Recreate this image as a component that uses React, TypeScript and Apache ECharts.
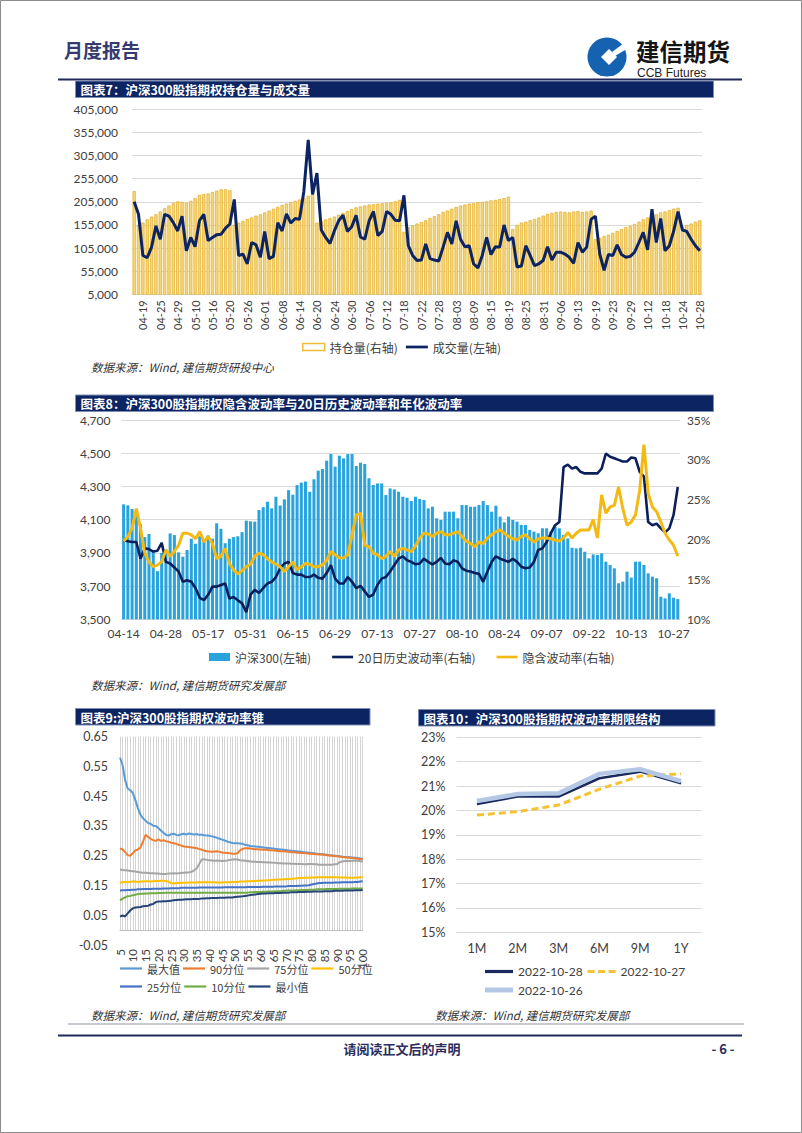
import React, { useEffect, useRef } from "react";
import * as echarts from "echarts";

// ---------------- DATA ----------------
const tradeDays = [
  "04-14","04-15","04-18","04-19","04-20","04-21","04-22","04-25","04-26","04-27","04-28","04-29",
  "05-05","05-06","05-09","05-10","05-11","05-12","05-13","05-16","05-17","05-18","05-19","05-20","05-23","05-24","05-25","05-26","05-27","05-30","05-31",
  "06-01","06-02","06-06","06-07","06-08","06-09","06-10","06-13","06-14","06-15","06-16","06-17","06-20","06-21","06-22","06-23","06-24","06-27","06-28","06-29","06-30",
  "07-01","07-04","07-05","07-06","07-07","07-08","07-11","07-12","07-13","07-14","07-15","07-18","07-19","07-20","07-21","07-22","07-25","07-26","07-27","07-28","07-29",
  "08-01","08-02","08-03","08-04","08-05","08-08","08-09","08-10","08-11","08-12","08-15","08-16","08-17","08-18","08-19","08-22","08-23","08-24","08-25","08-26","08-29","08-30","08-31",
  "09-01","09-02","09-05","09-06","09-07","09-08","09-09","09-13","09-14","09-15","09-16","09-19","09-20","09-21","09-22","09-23","09-26","09-27","09-28","09-29","09-30",
  "10-10","10-11","10-12","10-13","10-14","10-17","10-18","10-19","10-20","10-21","10-24","10-25","10-26","10-27","10-28"
];
const oiDays = tradeDays.slice(1);

// Chart 7: open interest (right axis) and volume (left axis)
const openInterest = [
  228000,155000,160000,167000,173000,178000,184000,191000,197000,202000,
  206000,205000,203000,207000,213000,220000,222000,223000,226000,229000,
  232000,232000,230000,155000,160000,164000,168000,171000,175000,178000,
  182000,186000,190000,194000,198000,201000,204000,207000,210000,213000,
  218000,221000,160000,164000,167000,170000,173000,177000,181000,185000,
  189000,193000,195000,197000,199000,200000,201000,202000,203000,204000,
  206000,209000,140000,150000,154000,158000,161000,165000,170000,174000,
  178000,183000,186000,190000,194000,197000,199000,201000,202000,204000,
  205000,206000,208000,209000,211000,213000,216000,146000,155000,160000,
  162000,165000,168000,171000,175000,179000,181000,183000,184000,183000,
  182000,184000,185000,183000,184000,186000,124000,127000,131000,134000,
  138000,142000,146000,150000,153000,157000,162000,167000,171000,175000,
  178000,182000,184000,187000,190000,192000,152000,155000,158000,162000,
  165000
];
const volume = [
  205000,178000,89000,84000,107000,153000,124000,178000,174000,160000,
  142000,174000,99000,128000,108000,164000,178000,121000,128000,134000,
  135000,148000,157000,210000,89000,92000,71000,117000,112000,85000,
  141000,82000,87000,160000,142000,179000,159000,169000,167000,228000,
  339000,221000,267000,144000,128000,115000,142000,164000,176000,141000,
  151000,176000,129000,124000,164000,184000,132000,141000,184000,178000,
  165000,164000,219000,110000,89000,78000,79000,114000,82000,79000,
  77000,107000,139000,114000,164000,124000,108000,110000,71000,62000,
  89000,128000,91000,108000,107000,155000,121000,128000,64000,66000,
  110000,89000,67000,71000,78000,108000,79000,96000,96000,92000,
  85000,72000,117000,96000,107000,167000,174000,92000,57000,91000,
  89000,112000,91000,85000,87000,96000,117000,139000,101000,189000,
  117000,169000,99000,110000,142000,184000,144000,141000,124000,110000,
  99000
];

// Chart 8: CSI 300 index (left), 20d HV and IV (right, %)
const csi300 = [
  4192,4186,4164,4140,4072,3995,4014,3915,3790,3900,
  3920,4017,4007,3903,3877,3917,3985,3955,4000,3970,
  4005,3985,4078,4045,3958,3985,3995,4000,4025,4094,
  4090,4088,4158,4175,4208,4168,4238,4185,4222,4278,
  4250,4308,4323,4329,4268,4343,4395,4405,4455,4495,
  4419,4485,4469,4495,4495,4423,4443,4435,4349,4309,
  4318,4318,4248,4288,4282,4268,4238,4232,4212,4238,
  4224,4218,4168,4178,4108,4098,4148,4148,4148,4108,
  4188,4188,4178,4178,4188,4212,4188,4148,4184,4118,
  4084,4118,4098,4088,4068,4068,4038,4028,4018,4048,
  4048,4028,4058,4048,4008,3987,3931,3927,3931,3907,
  3867,3891,3887,3897,3847,3827,3807,3717,3727,3787,
  3751,3847,3847,3827,3777,3757,3747,3636,3626,3656,
  3630,3622
];
const hv20 = [
  19.95,19.8,19.7,19.7,17.6,18.9,18.8,18.5,18.6,19.6,
  17.2,17.0,16.5,16.0,14.7,14.9,14.7,13.9,12.7,12.4,
  13.1,14.1,14.1,14.3,14.5,12.6,12.8,12.4,12.0,10.9,
  13.1,13.7,13.3,13.9,14.5,14.7,15.3,16.4,17.0,17.2,
  15.8,15.6,15.6,15.3,15.3,15.6,15.2,15.1,15.8,16.8,
  15.1,14.5,14.5,15.3,14.7,13.9,14.2,13.5,12.8,13.1,
  14.3,15.1,15.3,16.0,16.8,17.6,17.9,17.4,17.2,16.9,
  17.0,17.6,17.2,16.9,17.2,17.7,17.0,16.9,17.4,17.2,
  16.4,16.1,16.0,15.8,15.7,14.7,16.0,17.2,17.9,17.6,
  17.4,17.2,17.6,17.2,16.6,16.4,16.5,17.2,18.7,18.9,
  19.7,20.8,21.8,22.2,29.1,29.4,28.9,29.1,28.5,28.3,
  28.3,28.3,28.3,28.9,30.8,30.4,30.2,30.0,29.8,29.8,
  30.3,30.2,28.5,27.9,22.2,21.8,22.0,21.4,20.9,21.4,
  23.1,26.6
];
const impliedVol = [
  19.8,20.4,21.4,23.9,21.4,18.3,17.2,16.6,16.8,17.2,
  18.7,17.9,18.5,19.3,20.8,20.8,20.6,20.1,21.0,19.7,
  20.4,19.5,17.6,17.9,18.9,17.0,16.2,15.7,16.1,16.6,
  16.9,17.9,18.3,18.1,17.6,17.2,16.9,16.6,16.0,16.6,
  17.2,16.2,16.6,17.0,16.9,16.6,16.6,16.8,17.4,18.5,
  18.1,17.7,17.7,18.1,20.6,23.1,23.3,19.3,19.1,18.3,
  18.1,17.6,17.9,18.5,17.9,18.7,18.9,18.7,18.5,19.2,
  20.2,20.8,20.7,20.4,20.8,21.0,20.6,20.6,20.8,21.0,
  20.4,19.8,19.5,19.1,19.7,19.5,20.2,20.6,21.0,21.2,
  20.8,20.4,20.1,19.95,20.4,20.6,20.1,19.7,20.1,20.2,
  20.2,20.1,19.95,19.8,20.2,20.9,20.2,20.8,21.2,21.2,
  21.2,22.5,20.2,25.6,23.3,24.1,24.3,26.6,23.9,21.8,
  22.2,23.1,26.2,31.9,25.8,24.1,23.5,22.2,20.8,19.95,
  19.3,17.9
];

// Chart 9: volatility cone, windows 5..100
const conePeriods = [
  5,6,7,8,9,10,11,12,13,14,15,16,17,18,19,20,21,22,23,24,25,26,27,28,29,30,31,32,33,34,
  35,36,37,38,39,40,41,42,43,44,45,46,47,48,49,50,51,52,53,54,55,56,57,58,59,60,61,62,63,64,
  65,66,67,68,69,70,71,72,73,74,75,76,77,78,79,80,81,82,83,84,85,86,87,88,89,90,91,92,93,94,
  95,96,97,98,99,100
];
const coneMax = [
  0.580,0.555,0.505,0.476,0.470,0.462,0.437,0.410,0.388,0.376,
  0.368,0.360,0.357,0.351,0.350,0.343,0.335,0.327,0.320,0.318,
  0.322,0.324,0.320,0.319,0.322,0.324,0.321,0.325,0.323,0.321,
  0.323,0.320,0.321,0.319,0.318,0.317,0.315,0.313,0.310,0.307,
  0.304,0.301,0.298,0.295,0.293,0.292,0.292,0.291,0.290,0.287,
  0.285,0.283,0.282,0.281,0.280,0.279,0.278,0.277,0.276,0.275,
  0.274,0.273,0.272,0.271,0.270,0.269,0.268,0.267,0.266,0.265,
  0.264,0.263,0.262,0.261,0.260,0.259,0.258,0.257,0.256,0.255,
  0.254,0.253,0.252,0.251,0.250,0.249,0.248,0.247,0.246,0.245,
  0.245,0.244,0.243,0.242,0.241,0.240
];
const coneP90 = [
  0.275,0.271,0.262,0.252,0.250,0.258,0.268,0.271,0.277,0.297,
  0.320,0.313,0.307,0.302,0.300,0.305,0.300,0.302,0.299,0.297,
  0.294,0.292,0.290,0.287,0.284,0.281,0.280,0.279,0.278,0.277,
  0.275,0.273,0.270,0.267,0.265,0.264,0.263,0.264,0.265,0.263,
  0.261,0.260,0.259,0.258,0.257,0.257,0.258,0.268,0.273,0.275,
  0.275,0.274,0.273,0.272,0.272,0.271,0.270,0.270,0.269,0.268,
  0.268,0.267,0.266,0.265,0.265,0.264,0.263,0.262,0.262,0.261,
  0.260,0.259,0.259,0.258,0.257,0.257,0.256,0.255,0.254,0.254,
  0.253,0.252,0.251,0.250,0.249,0.248,0.247,0.246,0.245,0.244,
  0.243,0.242,0.241,0.240,0.239,0.238
];
const coneP75 = [
  0.204,0.202,0.201,0.200,0.199,0.198,0.197,0.195,0.194,0.193,
  0.193,0.192,0.191,0.191,0.190,0.190,0.189,0.189,0.189,0.190,
  0.190,0.191,0.190,0.191,0.192,0.193,0.194,0.194,0.196,0.201,
  0.207,0.222,0.237,0.238,0.236,0.235,0.234,0.233,0.234,0.233,
  0.232,0.233,0.234,0.236,0.237,0.238,0.237,0.235,0.234,0.233,
  0.232,0.231,0.230,0.230,0.229,0.229,0.228,0.228,0.227,0.227,
  0.226,0.226,0.225,0.225,0.224,0.224,0.224,0.223,0.223,0.222,
  0.222,0.222,0.221,0.221,0.222,0.222,0.221,0.221,0.220,0.220,
  0.220,0.220,0.220,0.220,0.221,0.222,0.228,0.231,0.232,0.232,
  0.232,0.233,0.233,0.233,0.232,0.230
];
const coneP50 = [
  0.159,0.161,0.162,0.162,0.162,0.163,0.163,0.162,0.163,0.163,
  0.164,0.164,0.163,0.164,0.165,0.165,0.166,0.166,0.165,0.163,
  0.158,0.157,0.158,0.158,0.159,0.159,0.159,0.160,0.160,0.160,
  0.160,0.161,0.161,0.161,0.161,0.161,0.161,0.161,0.160,0.160,
  0.160,0.161,0.161,0.161,0.162,0.162,0.162,0.163,0.163,0.163,
  0.164,0.164,0.165,0.165,0.166,0.166,0.167,0.167,0.168,0.168,
  0.169,0.169,0.170,0.170,0.171,0.171,0.172,0.173,0.173,0.174,
  0.175,0.175,0.176,0.176,0.176,0.177,0.177,0.178,0.178,0.178,
  0.178,0.178,0.178,0.178,0.178,0.178,0.177,0.177,0.177,0.176,
  0.176,0.176,0.176,0.177,0.178,0.178
];
const coneP25 = [
  0.133,0.134,0.134,0.135,0.135,0.136,0.136,0.137,0.137,0.138,
  0.138,0.138,0.138,0.139,0.139,0.139,0.139,0.140,0.140,0.140,
  0.141,0.141,0.141,0.141,0.142,0.142,0.142,0.142,0.142,0.142,
  0.142,0.143,0.143,0.143,0.143,0.143,0.143,0.143,0.143,0.143,
  0.143,0.144,0.144,0.144,0.144,0.144,0.144,0.144,0.144,0.144,
  0.145,0.145,0.145,0.145,0.145,0.145,0.146,0.146,0.146,0.146,
  0.146,0.147,0.147,0.147,0.147,0.147,0.148,0.148,0.148,0.148,
  0.149,0.149,0.150,0.150,0.151,0.153,0.155,0.157,0.158,0.158,
  0.159,0.159,0.159,0.159,0.160,0.160,0.160,0.161,0.161,0.161,
  0.161,0.161,0.162,0.162,0.163,0.164
];
const coneP10 = [
  0.100,0.106,0.110,0.114,0.115,0.117,0.119,0.121,0.122,0.122,
  0.123,0.123,0.124,0.124,0.124,0.125,0.125,0.125,0.126,0.126,
  0.126,0.126,0.126,0.126,0.126,0.126,0.126,0.126,0.126,0.126,
  0.126,0.126,0.126,0.126,0.126,0.126,0.126,0.126,0.126,0.126,
  0.126,0.126,0.126,0.126,0.126,0.126,0.126,0.126,0.126,0.126,
  0.126,0.127,0.127,0.128,0.128,0.128,0.129,0.129,0.130,0.130,
  0.130,0.131,0.131,0.131,0.132,0.132,0.133,0.133,0.133,0.134,
  0.134,0.135,0.135,0.135,0.136,0.136,0.136,0.137,0.137,0.137,
  0.137,0.138,0.138,0.138,0.138,0.138,0.139,0.139,0.139,0.139,
  0.139,0.140,0.140,0.140,0.140,0.140
];
const coneMin = [
  0.046,0.049,0.046,0.056,0.066,0.073,0.076,0.077,0.078,0.080,
  0.081,0.082,0.086,0.088,0.094,0.096,0.096,0.097,0.097,0.098,
  0.099,0.100,0.101,0.102,0.102,0.103,0.104,0.104,0.104,0.105,
  0.105,0.105,0.106,0.106,0.107,0.107,0.108,0.108,0.108,0.109,
  0.109,0.109,0.110,0.110,0.110,0.111,0.112,0.113,0.114,0.115,
  0.116,0.118,0.119,0.120,0.121,0.122,0.123,0.123,0.124,0.124,
  0.124,0.125,0.125,0.125,0.126,0.126,0.126,0.127,0.127,0.127,
  0.128,0.128,0.128,0.129,0.129,0.129,0.130,0.130,0.130,0.130,
  0.131,0.131,0.131,0.131,0.132,0.132,0.132,0.132,0.133,0.133,
  0.133,0.133,0.134,0.134,0.134,0.135
];

// Chart 10: term structure (%)
const terms = ["1M", "2M", "3M", "6M", "9M", "1Y"];
const term1028 = [20.26, 20.57, 20.57, 21.32, 21.59, 21.11];
const term1027 = [19.81, 19.95, 20.22, 20.87, 21.41, 21.5];
const term1026 = [20.39, 20.67, 20.7, 21.5, 21.69, 21.2];

// ---------------- STYLE ----------------
const NUM_FONT = 'Lato, "Noto Sans CJK SC", sans-serif';
const CJK_FONT = '"Noto Sans CJK SC", "Noto Sans", sans-serif';
const NAVY = "#0c2461";
const AXIS_TXT = "#404040";
const GRID_LINE = "#d9d9d9";
const LINE_ICON = "path://M0,0H24V3H0Z";
const THIN_ICON = "path://M0,0H24V2.4H0Z";
const THICK_ICON = "path://M0,0H28V5H0Z";
const NAVY_ICON = "path://M0,0H28V3.2H0Z";
const DASH_ICON = "path://M0,0H7V3.2H0Z M10.5,0H17.5V3.2H10.5Z M21,0H28V3.2H21Z";

function titleBar(x: number, y: number, w: number, h: number, text: string) {
  return [
    { type: "rect", silent: true, shape: { x, y, width: w, height: h }, style: { fill: NAVY, stroke: "#7d8db5", lineWidth: 1 } },
    { type: "text", silent: true, x: x + 5, y: y + h / 2 + 0.5, style: { text, fill: "#ffffff", fontSize: 12.5, fontWeight: "bold", fontFamily: CJK_FONT, align: "left", verticalAlign: "middle" } },
  ];
}
function sourceText(x: number, y: number, text: string) {
  return { type: "text", silent: true, x, y, style: { text, fill: "#333333", fontSize: 11.5, fontStyle: "italic", fontFamily: CJK_FONT, align: "left", verticalAlign: "middle" } };
}

function buildOption() {
  const thousands = (v: number) => v.toLocaleString("en-US");
  const lineS = (name: string, data: number[], color: string, width: number, xi: number, yi: number, extra: any = {}) => ({
    name, type: "line", data, xAxisIndex: xi, yAxisIndex: yi, symbol: "none", showSymbol: false,
    lineStyle: { color, width, ...(extra.lineStyle || {}) }, itemStyle: { color }, z: extra.z || 3,
  });

  const graphics: any[] = [
    { type: "rect", silent: true, z: 100, shape: { x: 0.5, y: 0.5, width: 801, height: 1132 }, style: { fill: "none", stroke: "#8c8c8c", lineWidth: 1 } },
    { type: "text", silent: true, x: 64, y: 49, style: { text: "月度报告", fill: "#353a70", fontSize: 19, fontWeight: "bold", fontFamily: CJK_FONT, verticalAlign: "middle" } },
    { type: "circle", silent: true, shape: { cx: 607, cy: 57, r: 19.5 }, style: { fill: "#1462b0" } },
    { type: "polygon", silent: true, shape: { points: [[609, 49], [617, 57], [609, 65], [601, 57]] }, style: { fill: "#ffffff" } },
    { type: "polygon", silent: true, shape: { points: [[612, 52], [628, 40], [630, 47], [615, 56]] }, style: { fill: "#ffffff" } },
    { type: "text", silent: true, x: 636, y: 50.5, style: { text: "建信期货", fill: "#141414", fontSize: 23.5, fontWeight: "bold", fontFamily: CJK_FONT, verticalAlign: "middle" } },
    { type: "text", silent: true, x: 637, y: 72.5, style: { text: "CCB Futures", fill: "#222222", fontSize: 12, fontFamily: '"Liberation Sans", Arial, sans-serif', verticalAlign: "middle" } },
    { type: "line", silent: true, shape: { x1: 58, y1: 79.5, x2: 742, y2: 79.5 }, style: { stroke: "#22295a", lineWidth: 2 } },
    ...titleBar(75.5, 81, 638, 16.5, "图表7：沪深300股指期权持仓量与成交量"),
    ...titleBar(75.5, 395, 638, 16.5, "图表8：沪深300股指期权隐含波动率与20日历史波动率和年化波动率"),
    ...titleBar(75.5, 708.5, 294.5, 16.5, "图表9:沪深300股指期权波动率锥"),
    ...titleBar(418.5, 709.5, 296.5, 16.5, "图表10：沪深300股指期权波动率期限结构"),
    sourceText(91, 367, "数据来源：Wind, 建信期货研投中心"),
    sourceText(91, 685, "数据来源：Wind, 建信期货研究发展部"),
    sourceText(91, 1015, "数据来源：Wind, 建信期货研究发展部"),
    sourceText(435, 1015, "数据来源：Wind, 建信期货研究发展部"),
    { type: "line", silent: true, shape: { x1: 68, y1: 1024, x2: 744, y2: 1024 }, style: { stroke: "#c8cad2", lineWidth: 2 } },
    { type: "line", silent: true, shape: { x1: 58, y1: 1035.5, x2: 742, y2: 1035.5 }, style: { stroke: "#22295a", lineWidth: 2 } },
    { type: "text", silent: true, x: 402, y: 1048, style: { text: "请阅读正文后的声明", fill: "#2b2d5c", fontSize: 13, fontWeight: "bold", fontFamily: CJK_FONT, align: "center", verticalAlign: "middle" } },
    { type: "text", silent: true, x: 723, y: 1048, style: { text: "- 6 -", fill: "#2b2d5c", fontSize: 13, fontWeight: "bold", fontFamily: CJK_FONT, align: "center", verticalAlign: "middle" } },
  ];

  const legendText = { fontSize: 12, color: AXIS_TXT, fontFamily: CJK_FONT };

  return {
    animation: false,
    backgroundColor: "#ffffff",
    textStyle: { fontFamily: NUM_FONT },
    graphic: { elements: graphics },
    grid: [
      { left: 132, top: 109.3, width: 570, height: 185 },
      { left: 121.5, top: 420, width: 558.4, height: 199.3 },
      { left: 120, top: 736.7, width: 242.7, height: 193.4 },
      { left: 120, top: 736.7, width: 242.7, height: 208.3 },
      { left: 456.5, top: 737.3, width: 245, height: 195 },
    ],
    xAxis: [
      {
        gridIndex: 0, type: "category", data: oiDays,
        axisLine: { lineStyle: { color: GRID_LINE } }, axisTick: { show: false },
        axisLabel: { rotate: 90, interval: (i: number) => i % 4 === 2, fontSize: 11, color: AXIS_TXT, margin: 6 },
      },
      {
        gridIndex: 1, type: "category", data: tradeDays,
        axisLine: { lineStyle: { color: GRID_LINE } }, axisTick: { show: false },
        axisLabel: { interval: (i: number) => i % 10 === 0, fontSize: 12, color: AXIS_TXT, margin: 8 },
      },
      {
        gridIndex: 2, type: "category", data: conePeriods, boundaryGap: false,
        axisLine: { show: false }, axisTick: { show: false }, axisLabel: { show: false },
        splitLine: { show: true, interval: 0, lineStyle: { color: "#d4d4d4", width: 1 } },
      },
      {
        gridIndex: 3, type: "category", data: conePeriods, boundaryGap: false,
        axisLine: { onZero: true, lineStyle: { color: "#bfbfbf" } }, axisTick: { show: false },
        axisLabel: { rotate: 90, interval: 4, fontSize: 11.5, color: AXIS_TXT, margin: 4 },
      },
      {
        gridIndex: 4, type: "category", data: terms,
        axisLine: { show: false }, axisTick: { show: false },
        axisLabel: { fontSize: 12.5, color: AXIS_TXT, margin: 10 },
      },
    ],
    yAxis: [
      {
        gridIndex: 0, type: "value", min: 5000, max: 405000, interval: 50000,
        axisLine: { show: false }, axisTick: { show: false },
        axisLabel: { formatter: thousands, fontSize: 12, color: AXIS_TXT, margin: 14 },
        splitLine: { lineStyle: { color: GRID_LINE } },
      },
      { gridIndex: 0, type: "value", position: "right", show: false, min: 5000, max: 405000, splitLine: { show: false } },
      {
        gridIndex: 1, type: "value", min: 3500, max: 4700, interval: 200,
        axisLine: { show: false }, axisTick: { show: false },
        axisLabel: { formatter: thousands, fontSize: 12, color: AXIS_TXT, margin: 11 },
        splitLine: { lineStyle: { color: GRID_LINE } },
      },
      {
        gridIndex: 1, type: "value", position: "right", min: 10, max: 35, interval: 5,
        axisLine: { show: false }, axisTick: { show: false },
        axisLabel: { formatter: "{value}%", fontSize: 12, color: AXIS_TXT, margin: 7 },
        splitLine: { show: false },
      },
      { gridIndex: 2, type: "value", show: false, min: 0, max: 1, splitLine: { show: false } },
      {
        gridIndex: 3, type: "value", min: -0.05, max: 0.65, interval: 0.1,
        axisLine: { show: false }, axisTick: { show: false },
        axisLabel: { formatter: (v: number) => v.toFixed(2), fontSize: 12.5, color: AXIS_TXT, margin: 12 },
        splitLine: { show: false },
      },
      {
        gridIndex: 4, type: "value", min: 15, max: 23, interval: 1,
        axisLine: { show: false }, axisTick: { show: false },
        axisLabel: { formatter: "{value}%", fontSize: 12.5, color: AXIS_TXT, margin: 11 },
        splitLine: { lineStyle: { color: GRID_LINE } },
      },
    ],
    legend: [
      {
        left: 297, top: 336, itemWidth: 22, itemHeight: 7, itemGap: 8, textStyle: legendText, selectedMode: false,
        data: [
          { name: "持仓量(右轴)", icon: "rect", itemStyle: { color: "#ffffff", borderColor: "#eebd3a", borderWidth: 1.5 } },
          { name: "成交量(左轴)", icon: LINE_ICON },
        ],
      },
      {
        left: 204, top: 646, itemWidth: 21, itemHeight: 8, itemGap: 21, textStyle: legendText, selectedMode: false,
        data: [
          { name: "沪深300(左轴)", icon: "rect" },
          { name: "20日历史波动率(右轴)", icon: LINE_ICON },
          { name: "隐含波动率(右轴)", icon: LINE_ICON },
        ],
      },
      {
        left: 115, top: 958, itemWidth: 22, itemHeight: 6, itemGap: 3, textStyle: { ...legendText, fontSize: 11 }, selectedMode: false,
        data: ["最大值", "90分位", "75分位", "50分位"].map((n) => ({ name: n, icon: THIN_ICON })),
      },
      {
        left: 115, top: 976, itemWidth: 22, itemHeight: 6, itemGap: 3, textStyle: { ...legendText, fontSize: 11 }, selectedMode: false,
        data: ["25分位", "10分位", "最小值"].map((n) => ({ name: n, icon: THIN_ICON })),
      },
      {
        left: 480, top: 960.5, itemWidth: 28, itemHeight: 6, itemGap: 5, textStyle: { ...legendText, fontSize: 12, fontFamily: NUM_FONT }, selectedMode: false,
        data: [{ name: "2022-10-28", icon: NAVY_ICON }, { name: "2022-10-27", icon: DASH_ICON }],
      },
      {
        left: 480, top: 979, itemWidth: 28, itemHeight: 6, itemGap: 5, textStyle: { ...legendText, fontSize: 12, fontFamily: NUM_FONT }, selectedMode: false,
        data: [{ name: "2022-10-26", icon: THICK_ICON }],
      },
    ],
    series: [
      {
        name: "持仓量(右轴)", type: "bar", xAxisIndex: 0, yAxisIndex: 1, data: openInterest, barWidth: "74%",
        itemStyle: { color: "#f6d878", borderColor: "#e2ab22", borderWidth: 0.7 }, z: 2,
      },
      lineS("成交量(左轴)", volume, "#0d2462", 3, 0, 0),
      {
        name: "沪深300(左轴)", type: "bar", xAxisIndex: 1, yAxisIndex: 2, data: csi300, barWidth: "72%",
        itemStyle: { color: "#29a3dd" }, z: 2,
      },
      lineS("20日历史波动率(右轴)", hv20, "#0b1f5b", 2.6, 1, 3),
      lineS("隐含波动率(右轴)", impliedVol, "#f5b914", 3, 1, 3),
      lineS("最大值", coneMax, "#5b9bd5", 2, 3, 5),
      lineS("90分位", coneP90, "#ed7d31", 2, 3, 5),
      lineS("75分位", coneP75, "#a5a5a5", 2, 3, 5),
      lineS("50分位", coneP50, "#ffc000", 2, 3, 5),
      lineS("25分位", coneP25, "#4472c4", 2, 3, 5),
      lineS("10分位", coneP10, "#70ad47", 2, 3, 5),
      lineS("最小值", coneMin, "#264478", 2, 3, 5),
      lineS("2022-10-28", term1028, "#1b2a5e", 2.5, 4, 6),
      lineS("2022-10-27", term1027, "#f5c236", 3, 4, 6, { lineStyle: { type: [7, 4] } }),
      lineS("2022-10-26", term1026, "#b4c8e6", 4.5, 4, 6),
    ],
  };
}

export default function App() {
  const ref = useRef<HTMLDivElement>(null);
  useEffect(() => {
    if (!ref.current) return;
    const chart = echarts.init(ref.current, null, { renderer: "svg", width: 802, height: 1133 });
    chart.setOption(buildOption() as any);
    return () => chart.dispose();
  }, []);
  return (
    <div
      ref={ref}
      style={{ position: "absolute", left: 0, top: 0, width: 802, height: 1133, background: "#ffffff" }}
    />
  );
}
